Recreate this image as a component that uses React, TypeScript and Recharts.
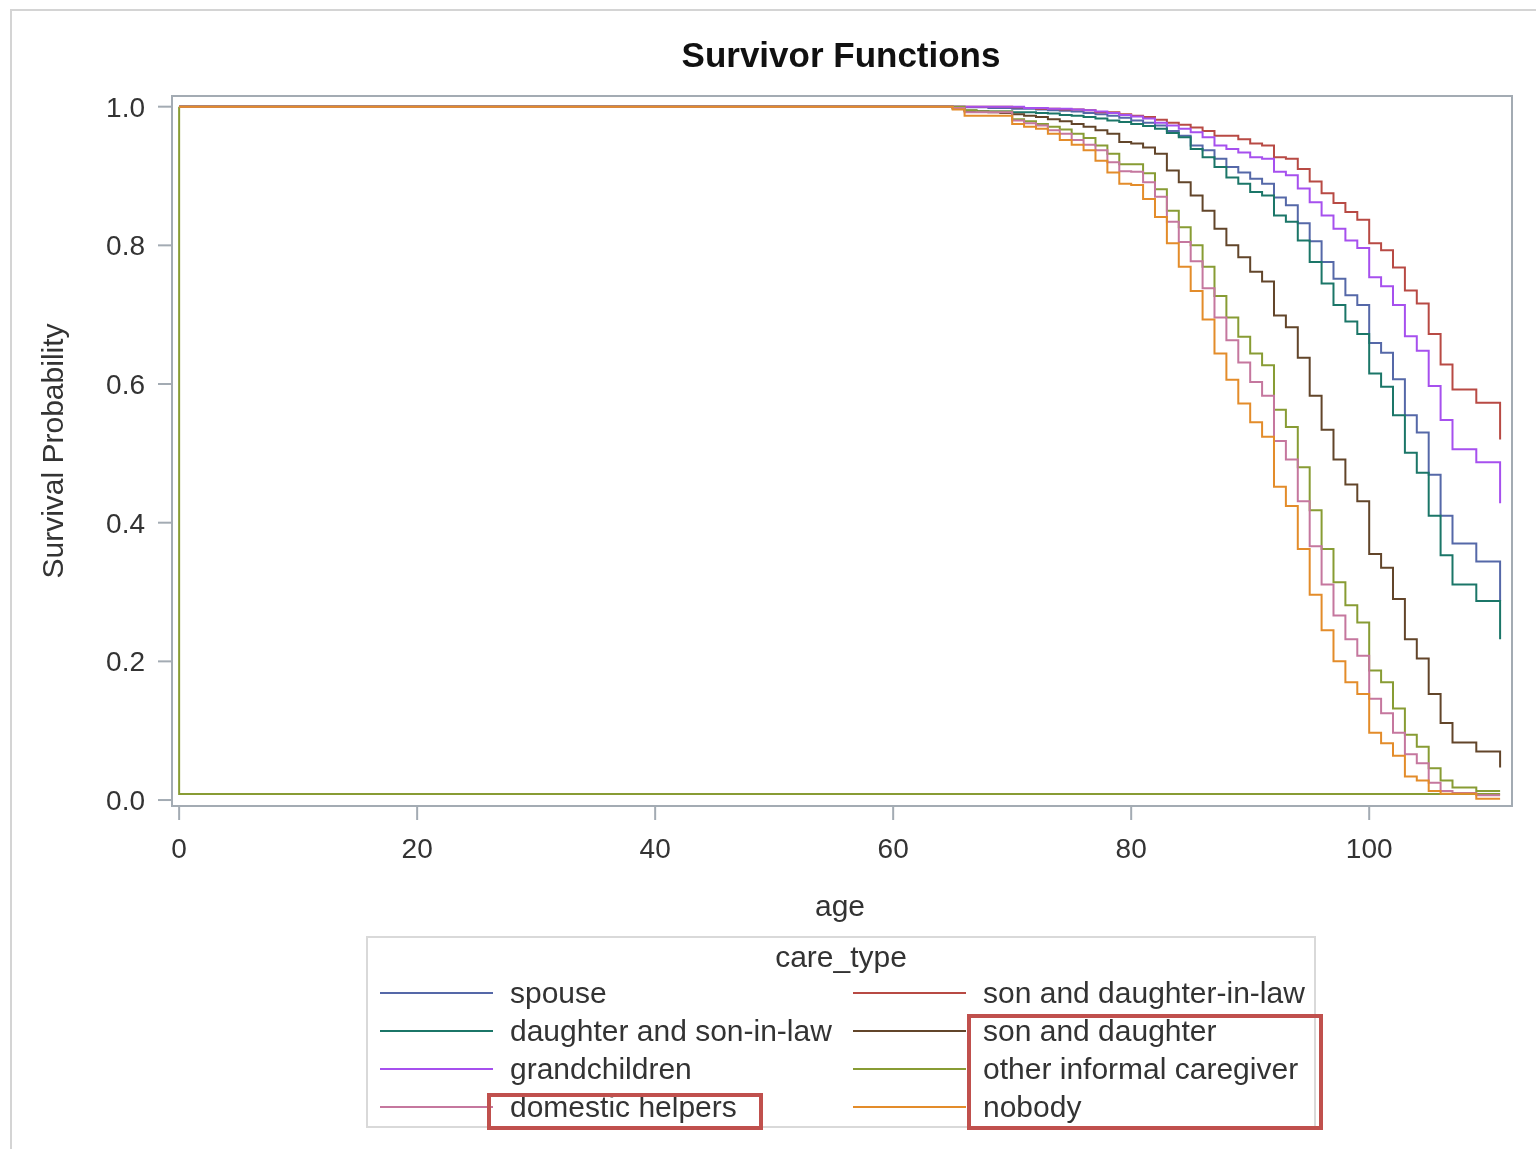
import { LineChart, Line, XAxis, YAxis, ReferenceArea, Label } from 'recharts'

const ages = [0, 64, 65, 66, 67, 68, 69, 70, 71, 72, 73, 74, 75, 76, 77, 78, 79, 80, 81, 82, 83, 84, 85, 86, 87, 88, 89, 90, 91, 92, 93, 94, 95, 96, 97, 98, 99, 100, 101, 102, 103, 104, 105, 106, 107, 108, 109, 110, 111]

const spouse = [1, 1, 1, 0.999, 0.999, 0.998, 0.998, 0.997, 0.997, 0.996, 0.995, 0.994, 0.993, 0.991, 0.989, 0.987, 0.984, 0.98, 0.977, 0.973, 0.965, 0.958, 0.944, 0.937, 0.925, 0.913, 0.905, 0.896, 0.889, 0.869, 0.858, 0.832, 0.806, 0.776, 0.752, 0.728, 0.714, 0.659, 0.645, 0.607, 0.555, 0.53, 0.469, 0.41, 0.37, 0.37, 0.344, 0.344, 0.287]
const sonDil = [1, 1, 1, 1, 1, 1, 1, 0.999, 0.998, 0.997, 0.997, 0.996, 0.996, 0.995, 0.992, 0.992, 0.989, 0.987, 0.985, 0.981, 0.977, 0.974, 0.97, 0.965, 0.958, 0.958, 0.953, 0.947, 0.944, 0.927, 0.925, 0.91, 0.892, 0.875, 0.861, 0.848, 0.837, 0.803, 0.793, 0.768, 0.735, 0.716, 0.672, 0.628, 0.592, 0.592, 0.573, 0.573, 0.52]
const daughterSil = [1, 1, 0.997, 0.994, 0.993, 0.993, 0.993, 0.992, 0.992, 0.991, 0.99, 0.988, 0.987, 0.985, 0.983, 0.98, 0.978, 0.975, 0.972, 0.968, 0.962, 0.956, 0.939, 0.927, 0.913, 0.898, 0.889, 0.877, 0.872, 0.843, 0.834, 0.807, 0.776, 0.745, 0.714, 0.69, 0.672, 0.615, 0.596, 0.555, 0.501, 0.472, 0.41, 0.353, 0.311, 0.311, 0.287, 0.287, 0.232]
const sonDaughter = [1, 1, 0.998, 0.994, 0.993, 0.992, 0.991, 0.989, 0.987, 0.985, 0.982, 0.979, 0.975, 0.971, 0.966, 0.961, 0.949, 0.947, 0.941, 0.932, 0.908, 0.891, 0.872, 0.85, 0.824, 0.8, 0.783, 0.762, 0.748, 0.699, 0.682, 0.638, 0.583, 0.534, 0.491, 0.455, 0.431, 0.355, 0.335, 0.29, 0.232, 0.204, 0.153, 0.111, 0.083, 0.083, 0.07, 0.07, 0.047]
const grandchildren = [1, 1, 1, 1, 1, 1, 1, 1, 0.998, 0.998, 0.997, 0.997, 0.996, 0.995, 0.993, 0.991, 0.988, 0.986, 0.983, 0.977, 0.973, 0.968, 0.963, 0.956, 0.944, 0.939, 0.934, 0.927, 0.925, 0.906, 0.901, 0.882, 0.862, 0.843, 0.824, 0.807, 0.796, 0.754, 0.741, 0.714, 0.669, 0.648, 0.597, 0.548, 0.506, 0.506, 0.487, 0.487, 0.428]
const otherInformal = [1, 1, 1, 0.995, 0.993, 0.993, 0.993, 0.982, 0.979, 0.975, 0.971, 0.967, 0.961, 0.955, 0.944, 0.932, 0.917, 0.917, 0.904, 0.881, 0.85, 0.826, 0.8, 0.769, 0.727, 0.696, 0.668, 0.644, 0.627, 0.563, 0.538, 0.48, 0.418, 0.362, 0.314, 0.281, 0.256, 0.187, 0.17, 0.132, 0.094, 0.077, 0.046, 0.028, 0.018, 0.018, 0.013, 0.013, 0.013]
const domestic = [1, 1, 0.998, 0.992, 0.992, 0.992, 0.992, 0.98, 0.976, 0.973, 0.966, 0.961, 0.952, 0.945, 0.937, 0.92, 0.907, 0.906, 0.891, 0.87, 0.834, 0.805, 0.777, 0.738, 0.696, 0.663, 0.631, 0.603, 0.583, 0.518, 0.491, 0.431, 0.366, 0.311, 0.266, 0.232, 0.208, 0.146, 0.125, 0.097, 0.066, 0.053, 0.025, 0.013, 0.01, 0.01, 0.007, 0.007, 0.007]
const nobody = [1, 1, 0.996, 0.987, 0.987, 0.987, 0.987, 0.975, 0.971, 0.968, 0.961, 0.952, 0.945, 0.937, 0.922, 0.905, 0.889, 0.887, 0.867, 0.841, 0.803, 0.769, 0.734, 0.693, 0.644, 0.606, 0.572, 0.545, 0.524, 0.452, 0.424, 0.362, 0.296, 0.245, 0.2, 0.17, 0.153, 0.097, 0.082, 0.064, 0.034, 0.028, 0.013, 0.009, 0.009, 0.009, 0.002, 0.002, 0.002]

// stray segment of the informal caregiver stratum (drop at age 0, flat along the bottom)
const baselineAges = [0, 0, 111]
const baselineValues = [1, 0.0086, 0.0086]

const yTicks = [0, 0.2, 0.4, 0.6, 0.8, 1.0]
const xTicks = [0, 20, 40, 60, 80, 100]

const series = [
  { key: 'spouse', name: 'spouse', color: '#5568a8', values: spouse },
  { key: 'sonDil', name: 'son and daughter-in-law', color: '#b84a44', values: sonDil },
  { key: 'daughterSil', name: 'daughter and son-in-law', color: '#1b7668', values: daughterSil },
  { key: 'sonDaughter', name: 'son and daughter', color: '#62452a', values: sonDaughter },
  { key: 'grandchildren', name: 'grandchildren', color: '#a650ee', values: grandchildren },
  { key: 'otherInformal', name: 'other informal caregiver', color: '#889c34', values: otherInformal },
  { key: 'domestic', name: 'domestic helpers', color: '#c5779e', values: domestic },
  { key: 'nobody', name: 'nobody', color: '#e38c2a', values: nobody },
]

const rows = ages.map((age, i) => {
  const r: Record<string, number> = { age }
  series.forEach((s) => (r[s.key] = s.values[i]))
  return r
})
const baseline = baselineAges.map((age, i) => ({ age, v: baselineValues[i] }))

const FONT = '"Liberation Sans", Arial, sans-serif'
const FRAME = '#a3abb3'
const X_MIN = -0.6
const X_MAX = 112
const Y_MIN = -0.0086
const Y_MAX = 1.0154

function YTitle({ viewBox }: any) {
  const cx = viewBox.x + 44
  const cy = viewBox.y + viewBox.height / 2
  return (
    <text x={cx} y={cy} transform={`rotate(-90 ${cx} ${cy})`} textAnchor="middle" dominantBaseline="central"
      fontSize={30} fill="#333" fontFamily={FONT}>
      Survival Probability
    </text>
  )
}

function XTitle({ viewBox }: any) {
  return (
    <text x={viewBox.x + viewBox.width / 2 - 2} y={viewBox.y + 99} textAnchor="middle" dominantBaseline="central"
      fontSize={30} fill="#333" fontFamily={FONT}>
      age
    </text>
  )
}

function LegendItem({ s, left, top }: { s: (typeof series)[number]; left: number; top: number }) {
  return (
    <div style={{ position: 'absolute', left, top, height: 38, display: 'flex', alignItems: 'center' }}>
      <div style={{ width: 113, height: 2, background: s.color, marginRight: 17 }} />
      <span style={{ fontSize: 30, color: '#333', whiteSpace: 'nowrap' }}>{s.name}</span>
    </div>
  )
}

export default function App() {
  const rowTops = [966, 1004, 1042, 1080]
  return (
    <div style={{ position: 'relative', width: 1528, height: 1130, overflow: 'hidden', fontFamily: FONT, background: '#fff' }}>
      <div style={{ position: 'fixed', left: 10, top: 9, width: 1700, height: 1400, border: '2px solid #d4d4d4' }} />
      <div style={{ position: 'absolute', left: 633, top: 27, width: 400, lineHeight: '40px', textAlign: 'center', fontSize: 35, fontWeight: 'bold', color: '#111' }}>
        Survivor Functions
      </div>
      <div style={{ position: 'absolute', left: 0, top: 0 }}>
        <LineChart width={1520} height={940} data={rows} margin={{ top: 88, right: 16, left: 0, bottom: 0 }}>
          <XAxis dataKey="age" type="number" domain={[X_MIN, X_MAX]} ticks={xTicks} allowDataOverflow height={142}
            axisLine={false} tickLine={{ stroke: FRAME, strokeWidth: 2 }} tickSize={14} tickMargin={18}
            tick={{ fontSize: 28, fill: '#333', fontFamily: FONT }}>
            <Label content={XTitle} />
          </XAxis>
          <YAxis type="number" domain={[Y_MIN, Y_MAX]} ticks={yTicks} allowDataOverflow width={164}
            axisLine={false} tickLine={{ stroke: FRAME, strokeWidth: 2 }} tickSize={14} tickMargin={13}
            tickFormatter={(v: number) => v.toFixed(1)} tick={{ fontSize: 28, fill: '#333', fontFamily: FONT }}>
            <Label content={YTitle} />
          </YAxis>
          <ReferenceArea x1={X_MIN} x2={X_MAX} y1={Y_MIN} y2={Y_MAX} fill="none" stroke={FRAME} strokeWidth={2} ifOverflow="visible" />
          <Line data={baseline} dataKey="v" type="linear" stroke="#889c34" strokeWidth={2} dot={false} isAnimationActive={false} legendType="none" />
          {series.map((s) => (
            <Line key={s.key} dataKey={s.key} name={s.name} type="stepAfter" stroke={s.color} strokeWidth={2}
              dot={false} isAnimationActive={false} />
          ))}
        </LineChart>
      </div>
      <div style={{ position: 'absolute', left: 358, top: 928, width: 950, height: 192, boxSizing: 'border-box', border: '2px solid #d9d9d9' }} />
      <div style={{ position: 'absolute', left: 358, top: 930, width: 950, lineHeight: '38px', textAlign: 'center', fontSize: 30, color: '#333' }}>
        care_type
      </div>
      {rowTops.map((top, i) => (
        <div key={i}>
          <LegendItem s={series[i * 2]} left={372} top={top} />
          <LegendItem s={series[i * 2 + 1]} left={845} top={top} />
        </div>
      ))}
      <div style={{ position: 'absolute', left: 479, top: 1085, width: 276, height: 37, boxSizing: 'border-box', border: '4px solid #c0504d' }} />
      <div style={{ position: 'absolute', left: 959, top: 1006, width: 356, height: 116, boxSizing: 'border-box', border: '4px solid #c0504d' }} />
    </div>
  )
}
